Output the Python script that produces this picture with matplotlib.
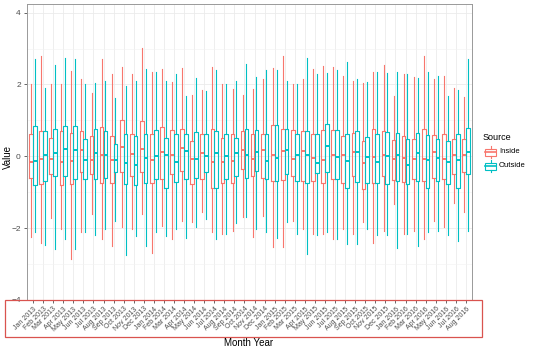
import numpy as np
import pandas as pd
import matplotlib
matplotlib.use('Agg')
import matplotlib.pyplot as plt
from matplotlib.patches import Rectangle
from matplotlib.lines import Line2D

plt.rcParams['font.family'] = ['Liberation Sans', 'DejaVu Sans']

months = list(pd.date_range('2013-01-01', '2016-08-01', freq='MS').strftime('%b %Y'))

# box stats, one entry per month
inside_hi  = [2.00, 2.79, 2.02, 2.00, 2.37, 2.14, 1.77, 2.70, 2.28, 2.50, 2.30, 3.02,
              2.36, 2.43, 2.06, 2.46, 1.72, 1.84, 2.50, 2.00, 1.86, 1.72, 1.88, 2.15,
              2.46, 2.79, 2.00, 2.14, 2.43, 2.52, 2.50, 2.23, 2.09, 2.05, 2.34, 2.55,
              1.67, 2.30, 2.20, 2.79, 2.14, 2.23, 1.90, 1.65]
inside_q3  = [0.61, 0.70, 0.52, 0.70, 0.66, 0.70, 0.56, 0.82, 0.56, 1.00, 0.61, 0.98,
              0.63, 0.82, 0.73, 0.77, 0.42, 0.61, 0.76, 0.52, 0.61, 0.70, 0.61, 0.63,
              0.86, 0.75, 0.72, 0.70, 0.61, 0.72, 0.73, 0.56, 0.66, 0.42, 0.77, 0.70,
              0.45, 0.56, 0.47, 0.77, 0.58, 0.61, 0.49, 0.47]
inside_med = [-0.16, -0.07, -0.07, -0.16, -0.13, 0.17, -0.10, 0.05, -0.10, 0.26, 0.07, 0.19,
              -0.10, 0.12, 0.05, 0.24, -0.07, 0.08, -0.15, -0.15, -0.13, 0.17, -0.07, 0.17,
              0.05, 0.15, -0.07, 0.15, -0.04, -0.10, 0.05, 0.03, 0.13, -0.19, -0.01, 0.03,
              -0.07, -0.04, -0.07, -0.07, 0.13, -0.07, 0.03, 0.03]
inside_q1  = [-0.59, -0.76, -0.50, -0.80, -0.76, -0.45, -0.50, -0.73, -0.73, -0.45, -0.55, -0.45,
              -0.75, -0.64, -0.50, -0.41, -0.78, -0.64, -0.87, -0.73, -0.73, -0.36, -0.55, -0.59,
              -0.69, -0.67, -0.55, -0.69, -0.69, -0.75, -0.64, -0.73, -0.55, -0.90, -0.73, -0.55,
              -0.67, -0.72, -0.64, -0.69, -0.59, -0.64, -0.50, -0.44]
inside_lo  = [-2.26, -2.40, -1.72, -2.03, -2.86, -2.10, -1.60, -2.30, -2.50, -1.98, -2.03, -1.60,
              -2.70, -1.94, -2.30, -1.80, -1.83, -1.56, -2.10, -2.17, -2.08, -1.68, -2.26, -1.66,
              -2.52, -2.52, -1.80, -2.03, -2.17, -2.17, -2.30, -2.03, -2.17, -1.83, -2.40, -2.08,
              -1.34, -2.17, -2.08, -2.30, -1.80, -1.98, -1.30, -1.56]

outside_hi  = [2.71, 1.90, 2.55, 2.75, 2.70, 2.00, 2.05, 2.09, 1.63, 1.97, 2.11, 2.43,
               2.34, 2.10, 2.28, 1.67, 2.19, 1.81, 2.41, 2.00, 2.09, 2.58, 2.20, 2.41,
               2.41, 2.09, 2.00, 2.74, 2.28, 2.32, 2.41, 2.63, 2.14, 2.06, 2.34, 2.32,
               2.34, 2.28, 2.19, 2.34, 2.23, 1.67, 1.84, 2.70]
outside_q3  = [0.84, 0.70, 0.75, 0.83, 0.84, 0.49, 0.75, 0.70, 0.35, 0.61, 0.56, 0.61,
               0.72, 0.52, 0.61, 0.61, 0.67, 0.63, 0.70, 0.61, 0.52, 0.75, 0.73, 0.61,
               0.86, 0.75, 0.63, 0.70, 0.61, 0.89, 0.72, 0.61, 0.70, 0.54, 0.61, 0.67,
               0.66, 0.47, 0.66, 0.58, 0.49, 0.42, 0.61, 0.80]
outside_med = [-0.12, 0.05, 0.08, 0.19, 0.17, -0.10, 0.10, 0.03, -0.10, -0.19, -0.24, -0.04,
               0.00, 0.03, -0.15, 0.15, -0.07, 0.00, 0.08, 0.00, 0.08, 0.05, 0.13, -0.12,
               -0.04, 0.17, 0.05, 0.03, -0.19, 0.29, -0.02, -0.13, 0.12, -0.01, -0.16, 0.00,
               0.05, -0.24, 0.10, -0.10, -0.04, -0.16, -0.10, 0.12]
outside_q1  = [-0.80, -0.69, -0.56, -0.56, -0.64, -0.64, -0.64, -0.59, -0.45, -0.78, -0.80, -0.75,
               -0.64, -0.87, -0.72, -0.64, -0.59, -0.44, -0.87, -0.64, -0.55, -0.59, -0.41, -0.62,
               -0.69, -0.50, -0.69, -0.73, -0.47, -0.45, -0.64, -0.87, -0.72, -0.73, -0.73, -0.78,
               -0.69, -0.78, -0.69, -0.87, -0.69, -0.78, -0.87, -0.50]
outside_lo  = [-2.10, -2.47, -2.58, -2.30, -2.58, -2.10, -2.20, -2.03, -1.80, -2.75, -2.23, -2.50,
               -2.10, -2.22, -2.03, -2.28, -1.98, -1.75, -2.30, -2.17, -1.86, -1.68, -2.03, -2.12,
               -2.28, -1.83, -2.17, -2.72, -2.20, -2.12, -2.30, -2.45, -2.45, -2.03, -2.20, -2.20,
               -2.54, -2.17, -2.50, -2.12, -2.08, -2.20, -2.36, -2.08]

sources = ['Inside', 'Outside']
colors = {'Inside': '#F8766D', 'Outside': '#00BFC4'}
series = {
    'Inside': (inside_lo, inside_q1, inside_med, inside_q3, inside_hi),
    'Outside': (outside_lo, outside_q1, outside_med, outside_q3, outside_hi),
}

fig = plt.figure(figsize=(5.4, 3.51), dpi=100)
ax = fig.add_axes([27/540, 1 - 300/351, (472 - 27)/540, (300 - 4)/351])

x = np.arange(len(months))
offsets = {'Inside': -0.1875, 'Outside': 0.1875}
for s in sources:
    lo, q1, med, q3, hi = series[s]
    stats = [dict(whislo=lo[i], q1=q1[i], med=med[i], q3=q3[i], whishi=hi[i], fliers=[])
             for i in range(len(months))]
    c = colors[s]
    ax.bxp(stats, positions=x + offsets[s], widths=0.36, showcaps=False, showfliers=False,
           boxprops=dict(color=c, lw=0.8), whiskerprops=dict(color=c, lw=0.8),
           medianprops=dict(color=c, lw=1.4), manage_ticks=False, zorder=3)

ax.set_xlim(-0.6, len(months) - 0.4)
ax.set_ylim(-4, 4.24)
ax.set_yticks([-4, -2, 0, 2, 4])
ax.set_yticks([-3, -1, 1, 3], minor=True)
ax.set_xticks(x)
ax.set_xticklabels(months, rotation=45, ha='right', rotation_mode='anchor',
                   fontsize=5, color='#4d4d4d')
ax.tick_params(axis='y', labelsize=6, colors='#4d4d4d', length=2.5, width=0.6, pad=2)
ax.tick_params(axis='y', which='minor', length=0)
ax.tick_params(axis='x', length=2.5, width=0.6, colors='#4d4d4d', pad=1.5)
ax.grid(True, which='major', color='#ebebeb', lw=0.6, zorder=0)
ax.grid(True, which='minor', axis='y', color='#f2f2f2', lw=0.4, zorder=0)
ax.set_axisbelow(True)
for sp in ax.spines.values():
    sp.set_color('#999999')
    sp.set_linewidth(0.7)

fig.text(8/540, 1 - 157/351, 'Value', fontsize=7, rotation=90, ha='center', va='center')
fig.text(249/540, 1 - 343/351, 'Month Year', fontsize=7, ha='center', va='center')

# legend drawn by hand to get ggplot-like boxplot keys
fig.text(483/540, 1 - 137/351, 'Source', fontsize=6.5, ha='left', va='center')
for s, yc in zip(sources, [152, 166]):
    c = colors[s]
    kx0, kx1 = 485/540, 496/540
    yb, yt = 1 - (yc + 3.5)/351, 1 - (yc - 3.5)/351
    fig.add_artist(Rectangle((kx0, yb), kx1 - kx0, yt - yb, transform=fig.transFigure,
                             fill=False, edgecolor=c, lw=0.8))
    ym = 1 - yc/351
    xm = (kx0 + kx1) / 2
    fig.add_artist(Line2D([kx0, kx1], [ym, ym], transform=fig.transFigure, color=c, lw=1.2))
    fig.add_artist(Line2D([xm, xm], [yt, yt + 2.5/351], transform=fig.transFigure, color=c, lw=0.8))
    fig.add_artist(Line2D([xm, xm], [yb, yb - 2.5/351], transform=fig.transFigure, color=c, lw=0.8))
    fig.text(499/540, ym, s, fontsize=5.5, ha='left', va='center')

# red highlight box around the month labels
fig.add_artist(Rectangle((5/540, 1 - 337/351), (482 - 5)/540, (337 - 300)/351,
                         transform=fig.transFigure, fill=False, edgecolor='#d9534f', lw=0.9))

fig.savefig('out.png', dpi=100)
